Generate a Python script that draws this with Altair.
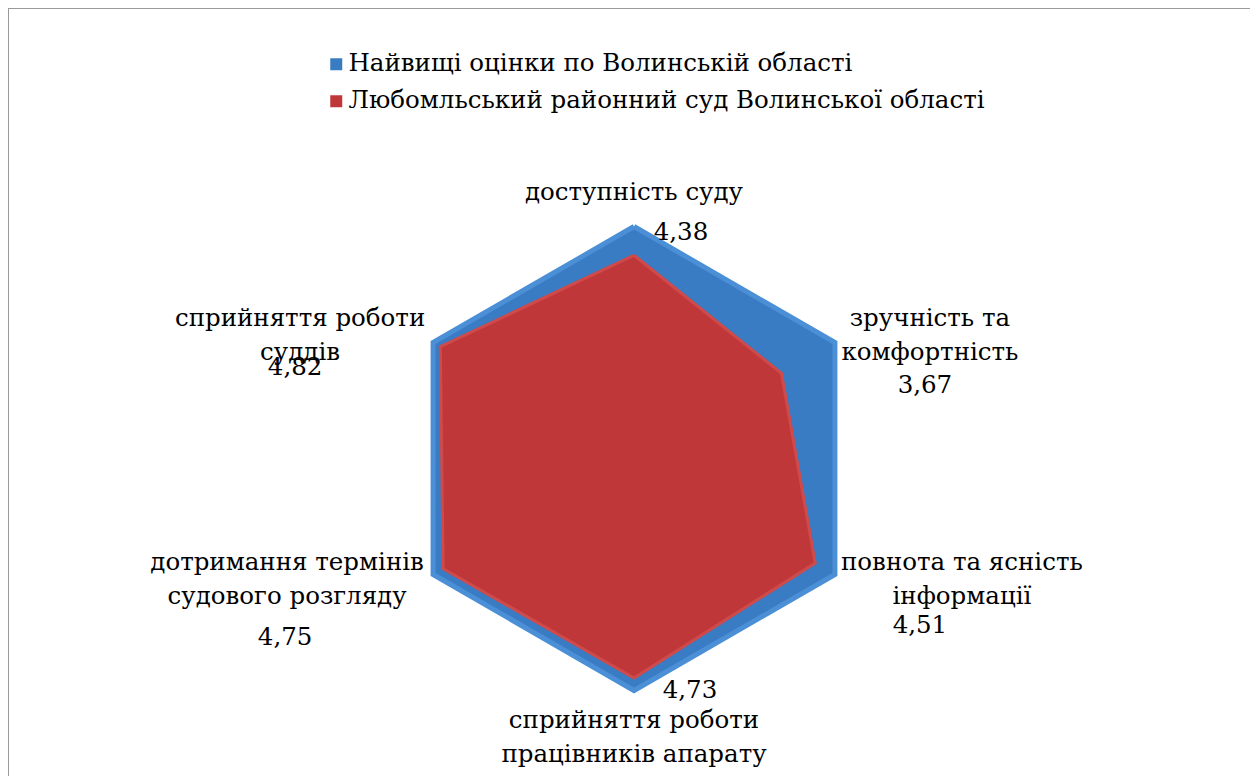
import math
import altair as alt
import pandas as pd

# ---------------- data ----------------
categories = [
    "доступність суду",
    "зручність та\nкомфортність",
    "повнота та ясність\nінформації",
    "сприйняття роботи\nпрацівників апарату",
    "дотримання термінів\nсудового розгляду",
    "сприйняття роботи\nсуддів",
]
series_names = [
    "Найвищі оцінки по Волинській області",
    "Любомльський районний суд Волинської області",
]
region_best = [5, 5, 5, 5, 5, 5]
lyuboml = [4.38, 3.67, 4.51, 4.73, 4.75, 4.82]
value_labels = ["4,38", "3,67", "4,51", "4,73", "4,75", "4,82"]
axis_max = 5

# ---------------- tables ----------------
n = len(categories)
rows = []
for s, vals in zip(series_names, [region_best, lyuboml]):
    for k in range(n + 1):  # close the polygon
        i = k % n
        rows.append({"series": s, "idx": i, "order": k, "value": vals[i]})
poly = pd.DataFrame(rows)

lab = pd.DataFrame({
    "idx": list(range(n)),
    "category": categories,
    "vlabel": value_labels,
    "value": [axis_max] * n,
})

# ---------------- geometry (scales) ----------------
W, H = 1242, 768
cx, cy = 626.0, 450.5   # centre of radar in view pixels
ppu = 46.4              # pixels per unit
xdom = [-cx / ppu, (W - cx) / ppu]
ydom = [-(H - cy) / ppu, cy / ppu]

FONT = "DejaVu Serif"
FS = 24.5

def polar(ch):
    return ch.transform_calculate(
        ang="datum.idx * PI / 3",
    ).transform_calculate(
        px="datum.value * sin(datum.ang)",
        py="datum.value * cos(datum.ang)",
    )

X = alt.X("px:Q", scale=alt.Scale(domain=xdom, nice=False, zero=False), axis=None)
Y = alt.Y("py:Q", scale=alt.Scale(domain=ydom, nice=False, zero=False), axis=None)

fill_scale = alt.Scale(domain=series_names, range=["#3a7cc3", "#c0373a"])
legend = alt.Legend(
    title=None, orient="none", legendX=316, legendY=44,
    symbolType="square", symbolSize=144, symbolStrokeWidth=0,
    labelFont=FONT, labelFontSize=FS, labelColor="#000000",
    labelLimit=2000, labelOffset=0, rowPadding=12, padding=0,
)

blue = polar(alt.Chart(poly).transform_filter(
    alt.datum.series == series_names[0])).mark_line(
    stroke="#4b8fd6", strokeWidth=5, strokeJoin="miter", interpolate="linear"
).encode(
    x=X, y=Y, order="order:Q",
    fill=alt.Fill("series:N", scale=fill_scale, legend=legend),
)

red = polar(alt.Chart(poly).transform_filter(
    alt.datum.series == series_names[1])).mark_line(
    stroke="#cf4a4a", strokeWidth=3, strokeJoin="miter", interpolate="linear"
).encode(
    x=X, y=Y, order="order:Q",
    fill=alt.Fill("series:N", scale=fill_scale, legend=legend),
)

# offsets of the first text line from the axis end-point (pixels)
cat_offsets = [(0, -34), (95, -24), (127, -12), (0, 30), (-146, -12), (-133, -24)]
val_offsets = [(47, 6), (90, 43), (85, 51), (56, 0), (-148, 63), (-138, 25)]

layers = [blue, red]
for i in range(n):
    dx, dy = cat_offsets[i]
    layers.append(polar(alt.Chart(lab).transform_filter(alt.datum.idx == i)).mark_text(
        font=FONT, fontSize=FS, color="#000000", align="center", baseline="middle",
        lineBreak="\n", lineHeight=34, dx=dx, dy=dy,
    ).encode(x=X, y=Y, text="category:N"))
    vx, vy = val_offsets[i]
    layers.append(polar(alt.Chart(lab).transform_filter(alt.datum.idx == i)).mark_text(
        font=FONT, fontSize=FS, color="#000000", align="center", baseline="middle",
        dx=vx, dy=vy,
    ).encode(x=X, y=Y, text="vlabel:N"))

frame_top = alt.Chart(lab).mark_rule(color="#9a9a9a", strokeWidth=2).encode(
    x=alt.value(0), x2=alt.value(W), y=alt.value(0))
frame_left = alt.Chart(lab).mark_rule(color="#9a9a9a", strokeWidth=2).encode(
    x=alt.value(0), y=alt.value(0), y2=alt.value(H))
layers += [frame_top, frame_left]

chart = alt.layer(*layers).properties(
    width=W, height=H, padding=0, autosize=alt.AutoSizeParams(type="none"),
    background="#ffffff",
).configure_view(stroke=None)

chart.save("out.html", embed_options={"renderer": "svg", "actions": False})
